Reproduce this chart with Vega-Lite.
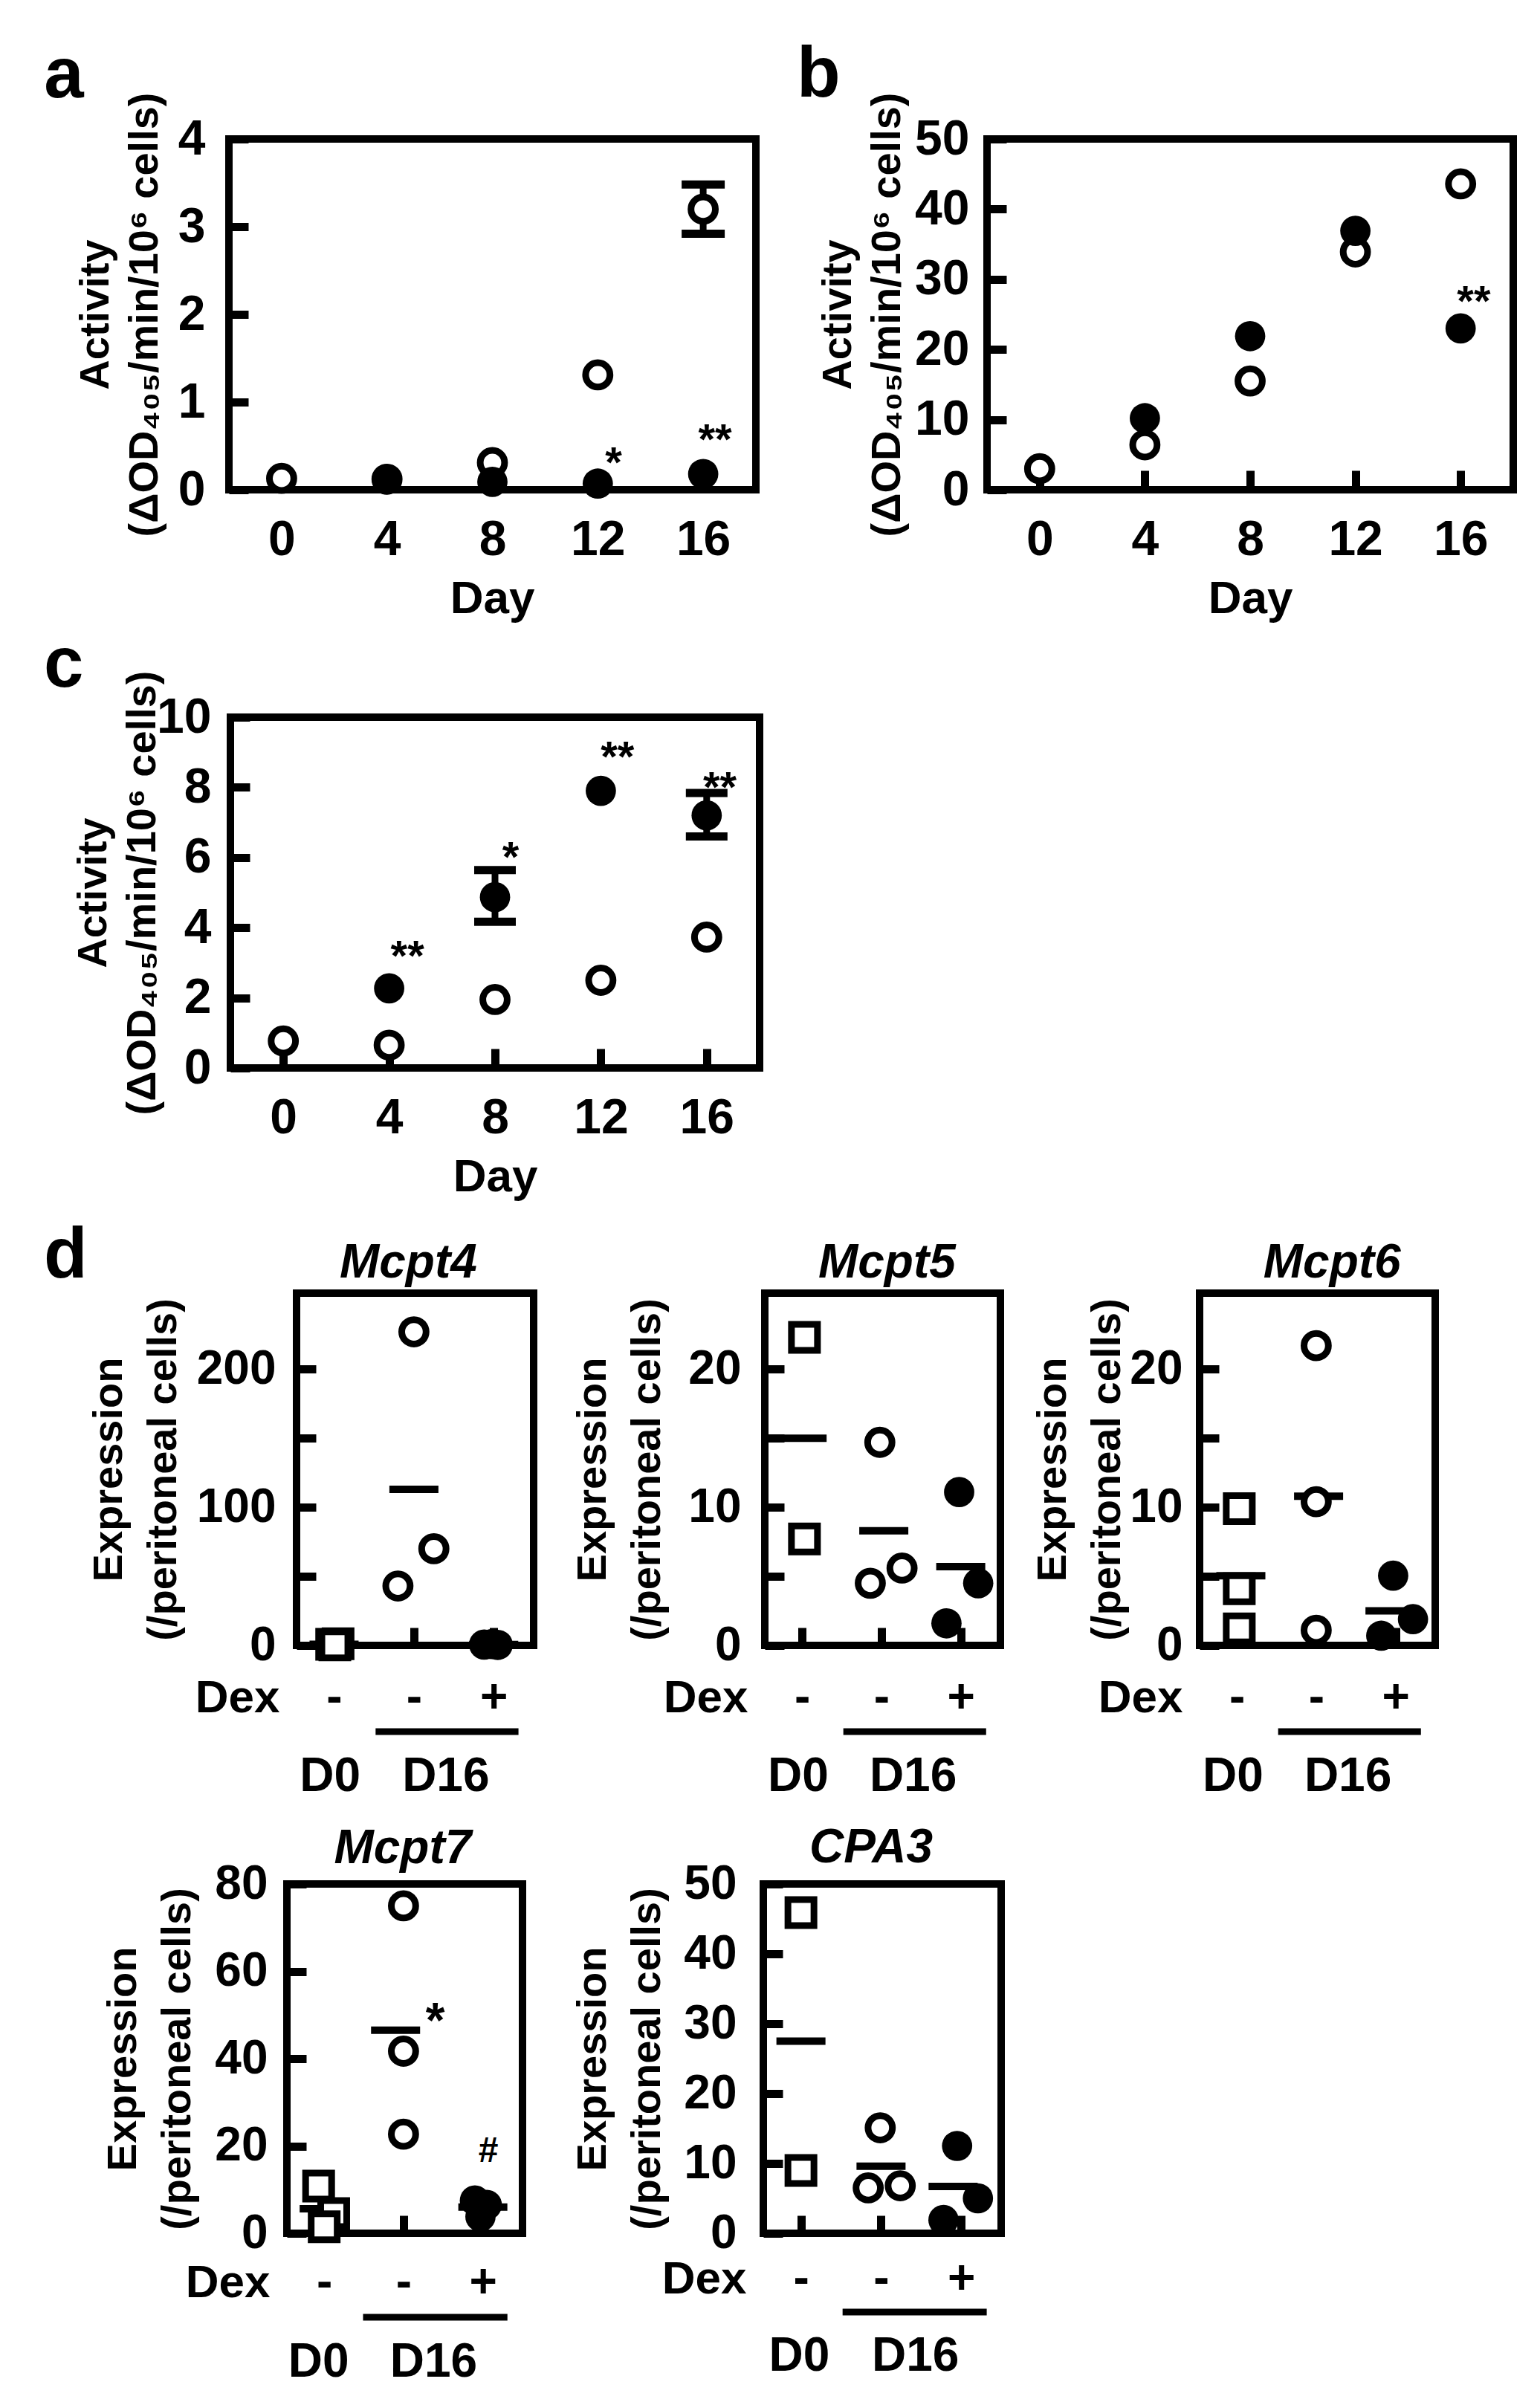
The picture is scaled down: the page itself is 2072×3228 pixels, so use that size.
{
  "$schema": "https://vega.github.io/schema/vega-lite/v6.json",
  "background": "white",
  "padding": {"left": 53, "top": 47, "right": 0, "bottom": 0},
  "bounds": "flush",
  "spacing": 0,
  "datasets": {
    "one": [{"k": 0}],
    "a": [
      {"d": 16, "lo": 2.92, "hi": 3.48, "s": "err"},
      {"d": 0, "v": 0.13, "s": "open"}, {"d": 4, "v": 0.12, "s": "open"}, {"d": 8, "v": 0.31, "s": "open"}, {"d": 12, "v": 1.31, "s": "open"}, {"d": 16, "v": 3.2, "s": "open"},
      {"d": 4, "v": 0.12, "s": "filled"}, {"d": 8, "v": 0.09, "s": "filled"}, {"d": 12, "v": 0.07, "s": "filled"}, {"d": 16, "v": 0.18, "s": "filled"},
      {"d": 12.6, "v": 0.14, "s": "star", "t": "*"}, {"d": 16.45, "v": 0.41, "s": "star", "t": "**"}
    ],
    "b": [
      {"d": 0, "v": 3.0, "s": "open"}, {"d": 4, "v": 6.4, "s": "open"}, {"d": 8, "v": 15.5, "s": "open"}, {"d": 12, "v": 33.9, "s": "open"}, {"d": 16, "v": 43.6, "s": "open"},
      {"d": 4, "v": 10.2, "s": "filled"}, {"d": 8, "v": 21.9, "s": "filled"}, {"d": 12, "v": 36.9, "s": "filled"}, {"d": 16, "v": 23.0, "s": "filled"},
      {"d": 16.5, "v": 24.8, "s": "star", "t": "**"}
    ],
    "c": [
      {"d": 8, "lo": 4.17, "hi": 5.64, "s": "err"}, {"d": 16, "lo": 6.6, "hi": 7.84, "s": "err"},
      {"d": 0, "v": 0.77, "s": "open"}, {"d": 4, "v": 0.65, "s": "open"}, {"d": 8, "v": 1.95, "s": "open"}, {"d": 12, "v": 2.5, "s": "open"}, {"d": 16, "v": 3.73, "s": "open"},
      {"d": 4, "v": 2.27, "s": "filled"}, {"d": 8, "v": 4.87, "s": "filled"}, {"d": 12, "v": 7.9, "s": "filled"}, {"d": 16, "v": 7.2, "s": "filled"},
      {"d": 4.69, "v": 2.78, "s": "star", "t": "**"}, {"d": 8.59, "v": 5.6, "s": "star", "t": "*"}, {"d": 12.63, "v": 8.45, "s": "star", "t": "**"}, {"d": 16.5, "v": 7.58, "s": "star", "t": "**"}
    ],
    "m4": [
      {"g": 1, "v": 0.8, "s": "mean"}, {"g": 2, "v": 113, "s": "mean"}, {"g": 3, "v": 0.7, "s": "mean"},
      {"g": 0.97, "v": 0.8, "s": "sq"}, {"g": 1.05, "v": 1.2, "s": "sq"}, {"g": 1.01, "v": 0.4, "s": "sq"},
      {"g": 2.0, "v": 227, "s": "oc"}, {"g": 2.25, "v": 70, "s": "oc"}, {"g": 1.8, "v": 43, "s": "oc"},
      {"g": 2.88, "v": 0.6, "s": "fc"}, {"g": 2.98, "v": 1.0, "s": "fc"}, {"g": 3.05, "v": 0.4, "s": "fc"}
    ],
    "m5": [
      {"g": 1.0, "v": 15.0, "s": "mean"}, {"g": 2.03, "v": 8.3, "s": "mean"}, {"g": 3.0, "v": 5.7, "s": "mean"},
      {"g": 1.03, "v": 22.3, "s": "sq"}, {"g": 1.03, "v": 7.7, "s": "sq"},
      {"g": 1.98, "v": 14.7, "s": "oc"}, {"g": 1.86, "v": 4.5, "s": "oc"}, {"g": 2.26, "v": 5.6, "s": "oc"},
      {"g": 2.98, "v": 11.1, "s": "fc"}, {"g": 3.22, "v": 4.5, "s": "fc"}, {"g": 2.82, "v": 1.6, "s": "fc"}
    ],
    "m6": [
      {"g": 1.05, "v": 5.05, "s": "mean"}, {"g": 2.03, "v": 10.8, "s": "mean"}, {"g": 2.93, "v": 2.5, "s": "mean"},
      {"g": 1.03, "v": 9.9, "s": "sq"}, {"g": 1.03, "v": 4.1, "s": "sq"}, {"g": 1.03, "v": 1.2, "s": "sq"},
      {"g": 2.0, "v": 21.7, "s": "oc"}, {"g": 2.0, "v": 10.4, "s": "oc"}, {"g": 2.0, "v": 1.1, "s": "oc"},
      {"g": 2.97, "v": 5.05, "s": "fc"}, {"g": 3.22, "v": 1.9, "s": "fc"}, {"g": 2.82, "v": 0.7, "s": "fc"}
    ],
    "m7": [
      {"g": 1.0, "v": 5.6, "s": "mean"}, {"g": 1.9, "v": 46.5, "s": "mean"}, {"g": 3.0, "v": 6.0, "s": "mean"},
      {"g": 0.93, "v": 10.8, "s": "sq"}, {"g": 1.12, "v": 4.5, "s": "sq"}, {"g": 1.0, "v": 1.5, "s": "sq"},
      {"g": 2.0, "v": 75, "s": "oc"}, {"g": 2.0, "v": 41.7, "s": "oc"}, {"g": 2.0, "v": 22.7, "s": "oc"},
      {"g": 2.9, "v": 7.5, "s": "fc"}, {"g": 3.05, "v": 6.5, "s": "fc"}, {"g": 2.97, "v": 3.8, "s": "fc"},
      {"g": 2.4, "v": 44.9, "s": "star", "t": "*"}, {"g": 3.07, "v": 16.3, "s": "hash", "t": "#"}
    ],
    "cpa3": [
      {"g": 1.0, "v": 27.5, "s": "mean"}, {"g": 2.0, "v": 9.6, "s": "mean"}, {"g": 2.9, "v": 6.7, "s": "mean"},
      {"g": 1.0, "v": 45.9, "s": "sq"}, {"g": 1.0, "v": 9.0, "s": "sq"},
      {"g": 1.99, "v": 15.1, "s": "oc"}, {"g": 1.84, "v": 6.5, "s": "oc"}, {"g": 2.24, "v": 6.8, "s": "oc"},
      {"g": 2.95, "v": 12.5, "s": "fc"}, {"g": 3.21, "v": 5.0, "s": "fc"}, {"g": 2.78, "v": 1.9, "s": "fc"}
    ]
  },
  "vconcat": [
    {
      "hconcat": [
        {
          "width": 709, "height": 472,
          "data": {"name": "a"},
          "layer": [
            {"transform": [{"filter": "datum.s == 'err'"}], "mark": {"type": "rule", "strokeWidth": 9, "color": "black"},
              "encoding": {
                "x": {"field": "d", "type": "quantitative", "scale": {"domain": [-2, 18], "nice": false, "zero": false},
                  "axis": {"values": [0, 4, 8, 12, 16], "format": "d", "title": "Day", "titleFontSize": 62, "titleX": 354, "titleY": 165, "titleAngle": 0, "titleAlign": "center", "titleBaseline": "alphabetic", "labelPadding": 113, "labelBaseline": "alphabetic", "tickSize": -26, "labelFontSize": 66}},
                "y": {"field": "lo", "type": "quantitative", "scale": {"domain": [0, 4], "nice": false},
                  "axis": {"values": [0, 1, 2, 3, 4], "format": "d", "title": ["Activity", "(ΔOD₄₀₅/min/10⁶ cells)"], "titleFontSize": 56, "titleLineHeight": 66, "titleX": -151, "titleY": 236, "titleAngle": 270, "titleAlign": "center", "titleBaseline": "bottom", "labelPadding": 58, "tickSize": -26, "labelFontSize": 66}},
                "y2": {"field": "hi"}}},
            {"transform": [{"filter": "datum.s == 'err'"}], "mark": {"type": "tick", "orient": "horizontal", "size": 58, "thickness": 11, "color": "black", "opacity": 1}, "encoding": {"x": {"field": "d", "type": "quantitative"}, "y": {"field": "lo", "type": "quantitative"}}},
            {"transform": [{"filter": "datum.s == 'err'"}], "mark": {"type": "tick", "orient": "horizontal", "size": 58, "thickness": 11, "color": "black", "opacity": 1}, "encoding": {"x": {"field": "d", "type": "quantitative"}, "y": {"field": "hi", "type": "quantitative"}}},
            {"transform": [{"filter": "datum.s == 'open'"}], "mark": {"type": "point", "shape": "circle", "filled": true, "fill": "white", "stroke": "black", "strokeWidth": 9, "size": 1075, "opacity": 1}, "encoding": {"x": {"field": "d", "type": "quantitative"}, "y": {"field": "v", "type": "quantitative"}}},
            {"transform": [{"filter": "datum.s == 'filled'"}], "mark": {"type": "point", "shape": "circle", "filled": true, "fill": "black", "size": 1660, "opacity": 1}, "encoding": {"x": {"field": "d", "type": "quantitative"}, "y": {"field": "v", "type": "quantitative"}}},
            {"transform": [{"filter": "datum.s == 'star'"}], "mark": {"type": "text", "fontSize": 58, "fontWeight": "bold", "baseline": "alphabetic", "align": "center", "color": "black"}, "encoding": {"x": {"field": "d", "type": "quantitative"}, "y": {"field": "v", "type": "quantitative"}, "text": {"field": "t"}}},
            {"data": {"name": "one"}, "mark": {"type": "text", "clip": false, "fontSize": 96, "fontWeight": "bold", "baseline": "alphabetic", "align": "left", "color": "black"}, "encoding": {"x": {"datum": -9.02}, "y": {"datum": 4.475}, "text": {"value": "a"}}}
          ]
        },
        {"width": 311, "height": 10, "view": {"stroke": null}, "data": {"name": "one"}, "mark": {"type": "point", "opacity": 0}, "encoding": {}},
        {
          "width": 708, "height": 472,
          "data": {"name": "b"},
          "layer": [
            {"transform": [{"filter": "datum.s == 'open'"}], "mark": {"type": "point", "shape": "circle", "filled": true, "fill": "white", "stroke": "black", "strokeWidth": 9, "size": 1075, "opacity": 1},
              "encoding": {
                "x": {"field": "d", "type": "quantitative", "scale": {"domain": [-2, 18], "nice": false, "zero": false},
                  "axis": {"values": [0, 4, 8, 12, 16], "format": "d", "title": "Day", "titleFontSize": 62, "titleX": 354, "titleY": 165, "titleAngle": 0, "titleAlign": "center", "titleBaseline": "alphabetic", "labelPadding": 113, "labelBaseline": "alphabetic", "tickSize": -26, "labelFontSize": 66}},
                "y": {"field": "v", "type": "quantitative", "scale": {"domain": [0, 50], "nice": false},
                  "axis": {"values": [0, 10, 20, 30, 40, 50], "format": "d", "title": ["Activity", "(ΔOD₄₀₅/min/10⁶ cells)"], "titleFontSize": 56, "titleLineHeight": 66, "titleX": -172, "titleY": 236, "titleAngle": 270, "titleAlign": "center", "titleBaseline": "bottom", "labelPadding": 50, "tickSize": -26, "labelFontSize": 66}}}},
            {"transform": [{"filter": "datum.s == 'filled'"}], "mark": {"type": "point", "shape": "circle", "filled": true, "fill": "black", "size": 1660, "opacity": 1}, "encoding": {"x": {"field": "d", "type": "quantitative"}, "y": {"field": "v", "type": "quantitative"}}},
            {"transform": [{"filter": "datum.s == 'star'"}], "mark": {"type": "text", "fontSize": 58, "fontWeight": "bold", "baseline": "alphabetic", "align": "center", "color": "black"}, "encoding": {"x": {"field": "d", "type": "quantitative"}, "y": {"field": "v", "type": "quantitative"}, "text": {"field": "t"}}},
            {"data": {"name": "one"}, "mark": {"type": "text", "clip": false, "fontSize": 96, "fontWeight": "bold", "baseline": "alphabetic", "align": "left", "color": "black"}, "encoding": {"x": {"datum": -9.23}, "y": {"datum": 56.04}, "text": {"value": "b"}}}
          ]
        }
      ],
      "spacing": 0, "bounds": "flush"
    },
    {"width": 10, "height": 778, "view": {"stroke": null}, "data": {"name": "one"}, "mark": {"type": "point", "opacity": 0}, "encoding": {}},
    {
      "hconcat": [
        {"width": 2, "height": 10, "view": {"stroke": null}, "data": {"name": "one"}, "mark": {"type": "point", "opacity": 0}, "encoding": {}},
        {
          "width": 712, "height": 472,
          "data": {"name": "c"},
          "layer": [
            {"transform": [{"filter": "datum.s == 'err'"}], "mark": {"type": "rule", "strokeWidth": 9, "color": "black"},
              "encoding": {
                "x": {"field": "d", "type": "quantitative", "scale": {"domain": [-2, 18], "nice": false, "zero": false},
                  "axis": {"values": [0, 4, 8, 12, 16], "format": "d", "title": "Day", "titleFontSize": 62, "titleX": 356, "titleY": 165, "titleAngle": 0, "titleAlign": "center", "titleBaseline": "alphabetic", "labelPadding": 113, "labelBaseline": "alphabetic", "tickSize": -26, "labelFontSize": 66}},
                "y": {"field": "lo", "type": "quantitative", "scale": {"domain": [0, 10], "nice": false},
                  "axis": {"values": [0, 2, 4, 6, 8, 10], "format": "d", "title": ["Activity", "(ΔOD₄₀₅/min/10⁶ cells)"], "titleFontSize": 56, "titleLineHeight": 66, "titleX": -156, "titleY": 236, "titleAngle": 270, "titleAlign": "center", "titleBaseline": "bottom", "labelPadding": 52, "tickSize": -26, "labelFontSize": 66}},
                "y2": {"field": "hi"}}},
            {"transform": [{"filter": "datum.s == 'err'"}], "mark": {"type": "tick", "orient": "horizontal", "size": 56, "thickness": 11, "color": "black", "opacity": 1}, "encoding": {"x": {"field": "d", "type": "quantitative"}, "y": {"field": "lo", "type": "quantitative"}}},
            {"transform": [{"filter": "datum.s == 'err'"}], "mark": {"type": "tick", "orient": "horizontal", "size": 56, "thickness": 11, "color": "black", "opacity": 1}, "encoding": {"x": {"field": "d", "type": "quantitative"}, "y": {"field": "hi", "type": "quantitative"}}},
            {"transform": [{"filter": "datum.s == 'open'"}], "mark": {"type": "point", "shape": "circle", "filled": true, "fill": "white", "stroke": "black", "strokeWidth": 9, "size": 1075, "opacity": 1}, "encoding": {"x": {"field": "d", "type": "quantitative"}, "y": {"field": "v", "type": "quantitative"}}},
            {"transform": [{"filter": "datum.s == 'filled'"}], "mark": {"type": "point", "shape": "circle", "filled": true, "fill": "black", "size": 1660, "opacity": 1}, "encoding": {"x": {"field": "d", "type": "quantitative"}, "y": {"field": "v", "type": "quantitative"}}},
            {"transform": [{"filter": "datum.s == 'star'"}], "mark": {"type": "text", "fontSize": 58, "fontWeight": "bold", "baseline": "alphabetic", "align": "center", "color": "black"}, "encoding": {"x": {"field": "d", "type": "quantitative"}, "y": {"field": "v", "type": "quantitative"}, "text": {"field": "t"}}},
            {"data": {"name": "one"}, "mark": {"type": "text", "clip": false, "fontSize": 96, "fontWeight": "bold", "baseline": "alphabetic", "align": "left", "color": "black"}, "encoding": {"x": {"datum": -9.05}, "y": {"datum": 10.87}, "text": {"value": "c"}}}
          ]
        }
      ],
      "spacing": 0, "bounds": "flush"
    },
    {"width": 10, "height": 775, "view": {"stroke": null}, "data": {"name": "one"}, "mark": {"type": "point", "opacity": 0}, "encoding": {}},
    {
      "hconcat": [
        {"width": 91, "height": 10, "view": {"stroke": null}, "data": {"name": "one"}, "mark": {"type": "point", "opacity": 0}, "encoding": {}},
        {
          "width": 319, "height": 474,
          "data": {"name": "m4"},
          "layer": [
            {"transform": [{"filter": "datum.s == 'mean'"}], "mark": {"type": "tick", "orient": "horizontal", "size": 66, "thickness": 10, "color": "black", "opacity": 1},
              "encoding": {
                "x": {"field": "g", "type": "quantitative", "scale": {"domain": [0.53, 3.5], "nice": false, "zero": false},
                  "axis": {"values": [1, 2, 3], "labelExpr": "datum.value == 3 ? '+' : '-'", "title": "Dex", "titleFontSize": 62, "titleX": -23, "titleY": 89, "titleAngle": 0, "titleAlign": "right", "titleBaseline": "alphabetic", "labelPadding": 113, "labelBaseline": "alphabetic", "tickSize": -24, "labelFontSize": 64}},
                "y": {"field": "v", "type": "quantitative", "scale": {"domain": [0, 255], "nice": false},
                  "axis": {"values": [0, 50, 100, 150, 200], "labelExpr": "datum.value % 100 == 0 ? datum.label : ''", "title": ["Expression", "(/peritoneal cells)"], "titleFontSize": 56, "titleLineHeight": 73, "titleX": -224, "titleY": 237, "titleAngle": 270, "titleAlign": "center", "titleBaseline": "bottom", "labelPadding": 54, "tickSize": -26, "labelFontSize": 64}}}},
            {"transform": [{"filter": "datum.s == 'sq'"}], "mark": {"type": "point", "shape": "square", "filled": true, "fill": "white", "stroke": "black", "strokeWidth": 9, "size": 1225, "opacity": 1}, "encoding": {"x": {"field": "g", "type": "quantitative"}, "y": {"field": "v", "type": "quantitative"}}},
            {"transform": [{"filter": "datum.s == 'oc'"}], "mark": {"type": "point", "shape": "circle", "filled": true, "fill": "white", "stroke": "black", "strokeWidth": 9, "size": 1075, "opacity": 1}, "encoding": {"x": {"field": "g", "type": "quantitative"}, "y": {"field": "v", "type": "quantitative"}}},
            {"transform": [{"filter": "datum.s == 'fc'"}], "mark": {"type": "point", "shape": "circle", "filled": true, "fill": "black", "size": 1660, "opacity": 1}, "encoding": {"x": {"field": "g", "type": "quantitative"}, "y": {"field": "v", "type": "quantitative"}}},
            {"data": {"name": "one"}, "mark": {"type": "rule", "clip": false, "strokeWidth": 9, "color": "black"}, "encoding": {"x": {"datum": 1.52}, "x2": {"datum": 3.31}, "y": {"datum": -62.4}}},
            {"data": {"name": "one"}, "mark": {"type": "text", "clip": false, "fontSize": 64, "fontWeight": "bold", "baseline": "alphabetic", "align": "center", "color": "black"}, "encoding": {"x": {"datum": 0.95}, "y": {"datum": -105.4}, "text": {"value": "D0"}}},
            {"data": {"name": "one"}, "mark": {"type": "text", "clip": false, "fontSize": 64, "fontWeight": "bold", "baseline": "alphabetic", "align": "center", "color": "black"}, "encoding": {"x": {"datum": 2.4}, "y": {"datum": -105.4}, "text": {"value": "D16"}}},
            {"data": {"name": "one"}, "mark": {"type": "text", "clip": false, "fontSize": 64, "fontWeight": "bold", "fontStyle": "italic", "baseline": "alphabetic", "align": "center", "color": "black"}, "encoding": {"x": {"datum": 1.93}, "y": {"datum": 266.3}, "text": {"value": "Mcpt4"}}},
            {"data": {"name": "one"}, "mark": {"type": "text", "clip": false, "fontSize": 96, "fontWeight": "bold", "baseline": "alphabetic", "align": "left", "color": "black"}, "encoding": {"x": {"datum": -2.636}, "y": {"datum": 266.3}, "text": {"value": "d"}}}
          ]
        },
        {"width": 311, "height": 10, "view": {"stroke": null}, "data": {"name": "one"}, "mark": {"type": "point", "opacity": 0}, "encoding": {}},
        {
          "width": 317, "height": 474,
          "data": {"name": "m5"},
          "layer": [
            {"transform": [{"filter": "datum.s == 'mean'"}], "mark": {"type": "tick", "orient": "horizontal", "size": 66, "thickness": 10, "color": "black", "opacity": 1},
              "encoding": {
                "x": {"field": "g", "type": "quantitative", "scale": {"domain": [0.53, 3.5], "nice": false, "zero": false},
                  "axis": {"values": [1, 2, 3], "labelExpr": "datum.value == 3 ? '+' : '-'", "title": "Dex", "titleFontSize": 62, "titleX": -23, "titleY": 89, "titleAngle": 0, "titleAlign": "right", "titleBaseline": "alphabetic", "labelPadding": 113, "labelBaseline": "alphabetic", "tickSize": -24, "labelFontSize": 64}},
                "y": {"field": "v", "type": "quantitative", "scale": {"domain": [0, 25.5], "nice": false},
                  "axis": {"values": [0, 5, 10, 15, 20], "labelExpr": "datum.value % 10 == 0 ? datum.label : ''", "title": ["Expression", "(/peritoneal cells)"], "titleFontSize": 56, "titleLineHeight": 73, "titleX": -203, "titleY": 237, "titleAngle": 270, "titleAlign": "center", "titleBaseline": "bottom", "labelPadding": 58, "tickSize": -26, "labelFontSize": 64}}}},
            {"transform": [{"filter": "datum.s == 'sq'"}], "mark": {"type": "point", "shape": "square", "filled": true, "fill": "white", "stroke": "black", "strokeWidth": 9, "size": 1225, "opacity": 1}, "encoding": {"x": {"field": "g", "type": "quantitative"}, "y": {"field": "v", "type": "quantitative"}}},
            {"transform": [{"filter": "datum.s == 'oc'"}], "mark": {"type": "point", "shape": "circle", "filled": true, "fill": "white", "stroke": "black", "strokeWidth": 9, "size": 1075, "opacity": 1}, "encoding": {"x": {"field": "g", "type": "quantitative"}, "y": {"field": "v", "type": "quantitative"}}},
            {"transform": [{"filter": "datum.s == 'fc'"}], "mark": {"type": "point", "shape": "circle", "filled": true, "fill": "black", "size": 1660, "opacity": 1}, "encoding": {"x": {"field": "g", "type": "quantitative"}, "y": {"field": "v", "type": "quantitative"}}},
            {"data": {"name": "one"}, "mark": {"type": "rule", "clip": false, "strokeWidth": 9, "color": "black"}, "encoding": {"x": {"datum": 1.52}, "x2": {"datum": 3.32}, "y": {"datum": -6.24}}},
            {"data": {"name": "one"}, "mark": {"type": "text", "clip": false, "fontSize": 64, "fontWeight": "bold", "baseline": "alphabetic", "align": "center", "color": "black"}, "encoding": {"x": {"datum": 0.95}, "y": {"datum": -10.54}, "text": {"value": "D0"}}},
            {"data": {"name": "one"}, "mark": {"type": "text", "clip": false, "fontSize": 64, "fontWeight": "bold", "baseline": "alphabetic", "align": "center", "color": "black"}, "encoding": {"x": {"datum": 2.4}, "y": {"datum": -10.54}, "text": {"value": "D16"}}},
            {"data": {"name": "one"}, "mark": {"type": "text", "clip": false, "fontSize": 64, "fontWeight": "bold", "fontStyle": "italic", "baseline": "alphabetic", "align": "center", "color": "black"}, "encoding": {"x": {"datum": 2.07}, "y": {"datum": 26.63}, "text": {"value": "Mcpt5"}}}
          ]
        },
        {"width": 268, "height": 10, "view": {"stroke": null}, "data": {"name": "one"}, "mark": {"type": "point", "opacity": 0}, "encoding": {}},
        {
          "width": 317, "height": 474,
          "data": {"name": "m6"},
          "layer": [
            {"transform": [{"filter": "datum.s == 'mean'"}], "mark": {"type": "tick", "orient": "horizontal", "size": 66, "thickness": 10, "color": "black", "opacity": 1},
              "encoding": {
                "x": {"field": "g", "type": "quantitative", "scale": {"domain": [0.53, 3.5], "nice": false, "zero": false},
                  "axis": {"values": [1, 2, 3], "labelExpr": "datum.value == 3 ? '+' : '-'", "title": "Dex", "titleFontSize": 62, "titleX": -23, "titleY": 89, "titleAngle": 0, "titleAlign": "right", "titleBaseline": "alphabetic", "labelPadding": 113, "labelBaseline": "alphabetic", "tickSize": -24, "labelFontSize": 64}},
                "y": {"field": "v", "type": "quantitative", "scale": {"domain": [0, 25.5], "nice": false},
                  "axis": {"values": [0, 5, 10, 15, 20], "labelExpr": "datum.value % 10 == 0 ? datum.label : ''", "title": ["Expression", "(/peritoneal cells)"], "titleFontSize": 56, "titleLineHeight": 73, "titleX": -169, "titleY": 237, "titleAngle": 270, "titleAlign": "center", "titleBaseline": "bottom", "labelPadding": 49, "tickSize": -26, "labelFontSize": 64}}}},
            {"transform": [{"filter": "datum.s == 'sq'"}], "mark": {"type": "point", "shape": "square", "filled": true, "fill": "white", "stroke": "black", "strokeWidth": 9, "size": 1225, "opacity": 1}, "encoding": {"x": {"field": "g", "type": "quantitative"}, "y": {"field": "v", "type": "quantitative"}}},
            {"transform": [{"filter": "datum.s == 'oc'"}], "mark": {"type": "point", "shape": "circle", "filled": true, "fill": "white", "stroke": "black", "strokeWidth": 9, "size": 1075, "opacity": 1}, "encoding": {"x": {"field": "g", "type": "quantitative"}, "y": {"field": "v", "type": "quantitative"}}},
            {"transform": [{"filter": "datum.s == 'fc'"}], "mark": {"type": "point", "shape": "circle", "filled": true, "fill": "black", "size": 1660, "opacity": 1}, "encoding": {"x": {"field": "g", "type": "quantitative"}, "y": {"field": "v", "type": "quantitative"}}},
            {"data": {"name": "one"}, "mark": {"type": "rule", "clip": false, "strokeWidth": 9, "color": "black"}, "encoding": {"x": {"datum": 1.52}, "x2": {"datum": 3.32}, "y": {"datum": -6.24}}},
            {"data": {"name": "one"}, "mark": {"type": "text", "clip": false, "fontSize": 64, "fontWeight": "bold", "baseline": "alphabetic", "align": "center", "color": "black"}, "encoding": {"x": {"datum": 0.95}, "y": {"datum": -10.54}, "text": {"value": "D0"}}},
            {"data": {"name": "one"}, "mark": {"type": "text", "clip": false, "fontSize": 64, "fontWeight": "bold", "baseline": "alphabetic", "align": "center", "color": "black"}, "encoding": {"x": {"datum": 2.4}, "y": {"datum": -10.54}, "text": {"value": "D16"}}},
            {"data": {"name": "one"}, "mark": {"type": "text", "clip": false, "fontSize": 64, "fontWeight": "bold", "fontStyle": "italic", "baseline": "alphabetic", "align": "center", "color": "black"}, "encoding": {"x": {"datum": 2.2}, "y": {"datum": 26.63}, "text": {"value": "Mcpt6"}}}
          ]
        }
      ],
      "spacing": 0, "bounds": "flush"
    },
    {"width": 10, "height": 795, "view": {"stroke": null}, "data": {"name": "one"}, "mark": {"type": "point", "opacity": 0}, "encoding": {}},
    {
      "hconcat": [
        {"width": 78, "height": 10, "view": {"stroke": null}, "data": {"name": "one"}, "mark": {"type": "point", "opacity": 0}, "encoding": {}},
        {
          "width": 317, "height": 470,
          "data": {"name": "m7"},
          "layer": [
            {"transform": [{"filter": "datum.s == 'mean'"}], "mark": {"type": "tick", "orient": "horizontal", "size": 66, "thickness": 10, "color": "black", "opacity": 1},
              "encoding": {
                "x": {"field": "g", "type": "quantitative", "scale": {"domain": [0.53, 3.5], "nice": false, "zero": false},
                  "axis": {"values": [1, 2, 3], "labelExpr": "datum.value == 3 ? '+' : '-'", "title": "Dex", "titleFontSize": 62, "titleX": -23, "titleY": 85, "titleAngle": 0, "titleAlign": "right", "titleBaseline": "alphabetic", "labelPadding": 109, "labelBaseline": "alphabetic", "tickSize": -24, "labelFontSize": 64}},
                "y": {"field": "v", "type": "quantitative", "scale": {"domain": [0, 80], "nice": false},
                  "axis": {"values": [0, 20, 40, 60, 80], "format": "d", "title": ["Expression", "(/peritoneal cells)"], "titleFontSize": 56, "titleLineHeight": 73, "titleX": -192, "titleY": 235, "titleAngle": 270, "titleAlign": "center", "titleBaseline": "bottom", "labelPadding": 52, "tickSize": -26, "labelFontSize": 64}}}},
            {"transform": [{"filter": "datum.s == 'sq'"}], "mark": {"type": "point", "shape": "square", "filled": true, "fill": "white", "stroke": "black", "strokeWidth": 9, "size": 1225, "opacity": 1}, "encoding": {"x": {"field": "g", "type": "quantitative"}, "y": {"field": "v", "type": "quantitative"}}},
            {"transform": [{"filter": "datum.s == 'oc'"}], "mark": {"type": "point", "shape": "circle", "filled": true, "fill": "white", "stroke": "black", "strokeWidth": 9, "size": 1075, "opacity": 1}, "encoding": {"x": {"field": "g", "type": "quantitative"}, "y": {"field": "v", "type": "quantitative"}}},
            {"transform": [{"filter": "datum.s == 'fc'"}], "mark": {"type": "point", "shape": "circle", "filled": true, "fill": "black", "size": 1660, "opacity": 1}, "encoding": {"x": {"field": "g", "type": "quantitative"}, "y": {"field": "v", "type": "quantitative"}}},
            {"transform": [{"filter": "datum.s == 'star'"}], "mark": {"type": "text", "fontSize": 66, "fontWeight": "bold", "baseline": "alphabetic", "align": "center", "color": "black"}, "encoding": {"x": {"field": "g", "type": "quantitative"}, "y": {"field": "v", "type": "quantitative"}, "text": {"field": "t"}}},
            {"transform": [{"filter": "datum.s == 'hash'"}], "mark": {"type": "text", "fontSize": 48, "fontWeight": "bold", "baseline": "alphabetic", "align": "center", "color": "black"}, "encoding": {"x": {"field": "g", "type": "quantitative"}, "y": {"field": "v", "type": "quantitative"}, "text": {"field": "t"}}},
            {"data": {"name": "one"}, "mark": {"type": "rule", "clip": false, "strokeWidth": 9, "color": "black"}, "encoding": {"x": {"datum": 1.49}, "x2": {"datum": 3.31}, "y": {"datum": -19.23}}},
            {"data": {"name": "one"}, "mark": {"type": "text", "clip": false, "fontSize": 64, "fontWeight": "bold", "baseline": "alphabetic", "align": "center", "color": "black"}, "encoding": {"x": {"datum": 0.93}, "y": {"datum": -32.85}, "text": {"value": "D0"}}},
            {"data": {"name": "one"}, "mark": {"type": "text", "clip": false, "fontSize": 64, "fontWeight": "bold", "baseline": "alphabetic", "align": "center", "color": "black"}, "encoding": {"x": {"datum": 2.38}, "y": {"datum": -32.85}, "text": {"value": "D16"}}},
            {"data": {"name": "one"}, "mark": {"type": "text", "clip": false, "fontSize": 64, "fontWeight": "bold", "fontStyle": "italic", "baseline": "alphabetic", "align": "center", "color": "black"}, "encoding": {"x": {"datum": 1.99}, "y": {"datum": 84.77}, "text": {"value": "Mcpt7"}}}
          ]
        },
        {"width": 324, "height": 10, "view": {"stroke": null}, "data": {"name": "one"}, "mark": {"type": "point", "opacity": 0}, "encoding": {}},
        {
          "width": 320, "height": 470,
          "data": {"name": "cpa3"},
          "layer": [
            {"transform": [{"filter": "datum.s == 'mean'"}], "mark": {"type": "tick", "orient": "horizontal", "size": 66, "thickness": 10, "color": "black", "opacity": 1},
              "encoding": {
                "x": {"field": "g", "type": "quantitative", "scale": {"domain": [0.53, 3.5], "nice": false, "zero": false},
                  "axis": {"values": [1, 2, 3], "labelExpr": "datum.value == 3 ? '+' : '-'", "title": "Dex", "titleFontSize": 62, "titleX": -23, "titleY": 80, "titleAngle": 0, "titleAlign": "right", "titleBaseline": "alphabetic", "labelPadding": 104, "labelBaseline": "alphabetic", "tickSize": -24, "labelFontSize": 64}},
                "y": {"field": "v", "type": "quantitative", "scale": {"domain": [0, 50], "nice": false},
                  "axis": {"values": [0, 10, 20, 30, 40, 50], "format": "d", "title": ["Expression", "(/peritoneal cells)"], "titleFontSize": 56, "titleLineHeight": 73, "titleX": -201, "titleY": 235, "titleAngle": 270, "titleAlign": "center", "titleBaseline": "bottom", "labelPadding": 62, "tickSize": -26, "labelFontSize": 64}}}},
            {"transform": [{"filter": "datum.s == 'sq'"}], "mark": {"type": "point", "shape": "square", "filled": true, "fill": "white", "stroke": "black", "strokeWidth": 9, "size": 1225, "opacity": 1}, "encoding": {"x": {"field": "g", "type": "quantitative"}, "y": {"field": "v", "type": "quantitative"}}},
            {"transform": [{"filter": "datum.s == 'oc'"}], "mark": {"type": "point", "shape": "circle", "filled": true, "fill": "white", "stroke": "black", "strokeWidth": 9, "size": 1075, "opacity": 1}, "encoding": {"x": {"field": "g", "type": "quantitative"}, "y": {"field": "v", "type": "quantitative"}}},
            {"transform": [{"filter": "datum.s == 'fc'"}], "mark": {"type": "point", "shape": "circle", "filled": true, "fill": "black", "size": 1660, "opacity": 1}, "encoding": {"x": {"field": "g", "type": "quantitative"}, "y": {"field": "v", "type": "quantitative"}}},
            {"data": {"name": "one"}, "mark": {"type": "rule", "clip": false, "strokeWidth": 9, "color": "black"}, "encoding": {"x": {"datum": 1.52}, "x2": {"datum": 3.32}, "y": {"datum": -11.28}}},
            {"data": {"name": "one"}, "mark": {"type": "text", "clip": false, "fontSize": 64, "fontWeight": "bold", "baseline": "alphabetic", "align": "center", "color": "black"}, "encoding": {"x": {"datum": 0.98}, "y": {"datum": -19.68}, "text": {"value": "D0"}}},
            {"data": {"name": "one"}, "mark": {"type": "text", "clip": false, "fontSize": 64, "fontWeight": "bold", "baseline": "alphabetic", "align": "center", "color": "black"}, "encoding": {"x": {"datum": 2.43}, "y": {"datum": -19.68}, "text": {"value": "D16"}}},
            {"data": {"name": "one"}, "mark": {"type": "text", "clip": false, "fontSize": 64, "fontWeight": "bold", "fontStyle": "italic", "baseline": "alphabetic", "align": "center", "color": "black"}, "encoding": {"x": {"datum": 1.876}, "y": {"datum": 53.09}, "text": {"value": "CPA3"}}}
          ]
        }
      ],
      "spacing": 0, "bounds": "flush"
    }
  ],
  "config": {
    "font": "Liberation Sans",
    "view": {"stroke": "black", "strokeWidth": 10},
    "axis": {"domain": false, "grid": false, "ticks": true, "tickColor": "black", "tickWidth": 11, "labelFont": "Liberation Sans", "labelFontWeight": "bold", "labelColor": "black", "titleFont": "Liberation Sans", "titleFontWeight": "bold", "titleColor": "black", "zindex": 1, "labelOverlap": false, "labelFlush": false, "labelBound": false},
    "text": {"font": "Liberation Sans"}
  }
}
